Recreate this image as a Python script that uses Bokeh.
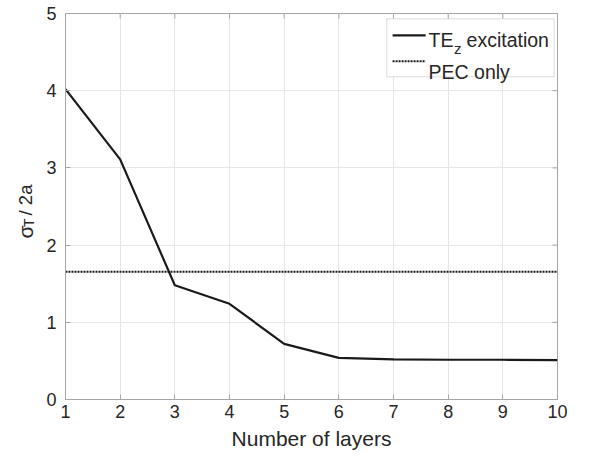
import math
from bokeh.plotting import figure
from bokeh.layouts import row
from bokeh.models import Label, BoxAnnotation, Arrow, FixedTicker, Range1d
from bokeh.embed import file_html
from bokeh.resources import INLINE

# data
layers = [1, 2, 3, 4, 5, 6, 7, 8, 9, 10]
te_z = [4.02, 3.11, 1.48, 1.24, 0.72, 0.54, 0.52, 0.515, 0.515, 0.51]
pec_only = 1.655
x_ticks = [1, 2, 3, 4, 5, 6, 7, 8, 9, 10]
y_ticks = [0, 1, 2, 3, 4, 5]

# overall canvas and layout (px)
W, H = 575, 457
SX, SY = W / 591, H / 473          # reference -> canvas
LW = 40                            # width of the side strip carrying the y label
FL, FT = 65, 13                    # frame left / top (global canvas)
FW, FH = 492, 386
XMIN, XMAX, YMIN, YMAX = 1, 10, 0, 5
TICK = 5                           # tick length, px

FONT = "Liberation Sans"
TXT = "#262626"
AX = "#a6a6a6"
INK = "#1a1a1a"


def X(ref_x):
    cx = ref_x * SX
    return XMIN + (cx - FL) / FW * (XMAX - XMIN)


def Y(ref_y):
    cy = ref_y * SY
    return YMAX - (cy - FT) / FH * (YMAX - YMIN)


# side strip with the y-axis label
lf = figure(width=LW, height=H, output_backend="svg", toolbar_location=None,
            x_range=Range1d(0, LW), y_range=Range1d(0, H),
            frame_width=LW, frame_height=H, x_axis_type=None, y_axis_type=None,
            min_border_left=0, min_border_right=0, min_border_top=0, min_border_bottom=0)
lf.outline_line_color = None
lf.background_fill_color = "white"
lf.border_fill_color = "white"
lf.xgrid.visible = False
lf.ygrid.visible = False


def LX(ref_x):
    return ref_x * SX


def LY(ref_y):
    return H - ref_y * SY


lf.add_layout(Label(x=LX(25.5), y=LY(233), text="σ", angle=math.pi / 2, text_font=FONT,
                    text_font_size="21px", text_color=TXT, text_baseline="alphabetic"))
lf.add_layout(Label(x=LX(29), y=LY(221), text="T", angle=math.pi / 2, text_font=FONT,
                    text_font_size="14px", text_color=TXT, text_baseline="alphabetic"))
lf.add_layout(Label(x=LX(25.5), y=LY(209), text="/ 2a", angle=math.pi / 2, text_font=FONT,
                    text_font_size="18.5px", text_color=TXT, text_baseline="alphabetic"))

# main plot
p = figure(width=W - LW, height=H, output_backend="svg", toolbar_location=None,
           x_range=Range1d(XMIN, XMAX), y_range=Range1d(YMIN, YMAX),
           frame_width=FW, frame_height=FH,
           min_border_left=FL - LW, min_border_right=W - FL - FW,
           min_border_top=FT, min_border_bottom=H - FT - FH)
p.background_fill_color = "white"
p.border_fill_color = "white"
p.outline_line_color = AX
p.outline_line_width = 1

for ax in (p.xaxis[0], p.yaxis[0]):
    ax.axis_line_color = AX
    ax.major_tick_line_color = AX
    ax.major_tick_in = TICK
    ax.major_tick_out = 0
    ax.minor_tick_line_color = None
    ax.major_label_text_font = FONT
    ax.major_label_text_font_size = "18px"
    ax.major_label_text_color = TXT

p.xaxis.ticker = FixedTicker(ticks=x_ticks)
p.yaxis.ticker = FixedTicker(ticks=y_ticks)
p.xaxis.major_label_standoff = 5
p.yaxis.major_label_standoff = 9
p.xaxis.axis_label = "Number of layers"
p.xaxis.axis_label_text_font = FONT
p.xaxis.axis_label_text_font_size = "21px"
p.xaxis.axis_label_text_font_style = "normal"
p.xaxis.axis_label_text_color = TXT
p.xaxis.axis_label_standoff = 6

p.xgrid.ticker = FixedTicker(ticks=x_ticks)
p.ygrid.ticker = FixedTicker(ticks=y_ticks)
p.grid.grid_line_color = "#e6e6e6"
p.grid.grid_line_width = 1

# inward ticks on the top and right edges of the box (from the tick lists)
dy = TICK / FH * (YMAX - YMIN)
dx = TICK / FW * (XMAX - XMIN)
p.segment(x0=x_ticks, y0=[YMAX] * len(x_ticks), x1=x_ticks, y1=[YMAX - dy] * len(x_ticks),
          line_color=AX, line_width=1)
p.segment(x0=[XMAX] * len(y_ticks), y0=y_ticks, x1=[XMAX - dx] * len(y_ticks), y1=y_ticks,
          line_color=AX, line_width=1)

p.line(layers, te_z, line_color=INK, line_width=2.2)
p.line([XMIN, XMAX], [pec_only, pec_only], line_color=INK, line_width=2, line_dash="2 1")

# legend
p.add_layout(BoxAnnotation(left=X(397), right=X(569), top=Y(19), bottom=Y(79),
                           fill_color="white", fill_alpha=1, line_color="#8c8c8c", line_width=1))
p.add_layout(Arrow(x_start=X(403), y_start=Y(36), x_end=X(437), y_end=Y(36), end=None,
                   line_color=INK, line_width=2.2))
p.add_layout(Arrow(x_start=X(403), y_start=Y(63), x_end=X(437), y_end=Y(63), end=None,
                   line_color=INK, line_width=2, line_dash="2 1"))
p.add_layout(Label(x=X(440), y=Y(41), text="TE", text_font=FONT, text_font_size="19.5px",
                   text_color=TXT, text_baseline="alphabetic"))
p.add_layout(Label(x=X(466), y=Y(50), text="z", text_font=FONT, text_font_size="15px",
                   text_color=TXT, text_baseline="alphabetic"))
p.add_layout(Label(x=X(479), y=Y(41), text="excitation", text_font=FONT, text_font_size="19.5px",
                   text_color=TXT, text_baseline="alphabetic"))
p.add_layout(Label(x=X(440), y=Y(74), text="PEC only", text_font=FONT, text_font_size="19.5px",
                   text_color=TXT, text_baseline="alphabetic"))

layout = row(lf, p, spacing=0)
open("out.html", "w").write(file_html(layout, INLINE))
